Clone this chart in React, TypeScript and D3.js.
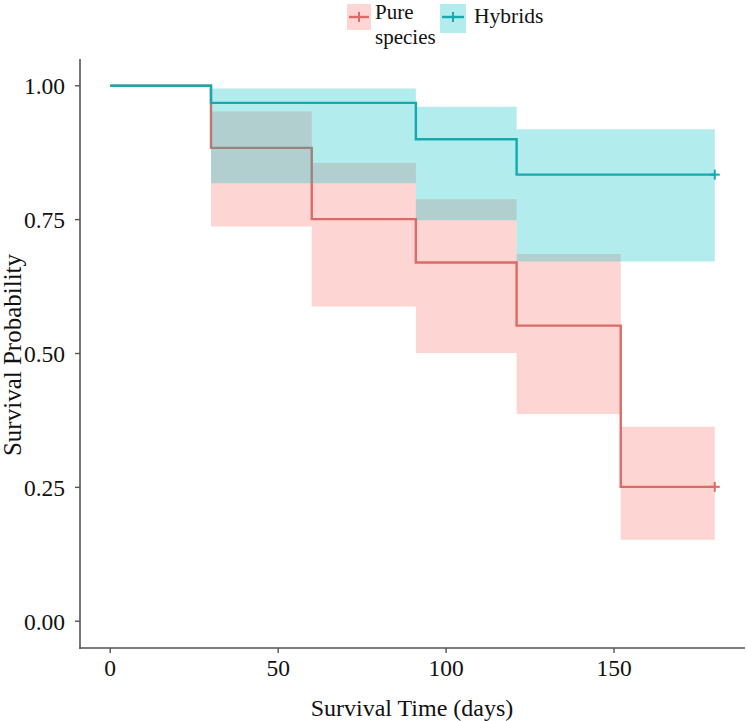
import React from "react";
import * as d3 from "d3";

// Kaplan-Meier step data (times where each step starts) and the end of follow-up
const endTime = 180;
const pureTimes = [0, 30, 60, 91, 121, 152];
const pureSurv = [1, 0.884, 0.751, 0.67, 0.552, 0.251];
const pureUpper = [1, 0.952, 0.856, 0.788, 0.686, 0.363];
const pureLower = [1, 0.737, 0.588, 0.501, 0.387, 0.152];

const hybTimes = [0, 30, 91, 121];
const hybSurv = [1, 0.968, 0.9, 0.834];
const hybUpper = [1, 0.995, 0.961, 0.919];
const hybLower = [1, 0.818, 0.749, 0.672];

const xTicks = [0, 50, 100, 150];
const yTicks = [0, 0.25, 0.5, 0.75, 1];
const legendLabels = ["Pure species", "Hybrids"];

const PURE = "#F8766D";
const HYB = "#00BFC4";
const PURE_LINE = "#dc6a66";
const HYB_LINE = "#14aab0";
const FONT = "'Liberation Serif', 'Times New Roman', serif";

type Pt = { t: number; s: number; lo: number; hi: number };

function toPts(times: number[], s: number[], lo: number[], hi: number[]): Pt[] {
  const pts = times.map((t, i) => ({ t, s: s[i], lo: lo[i], hi: hi[i] }));
  const last = pts[pts.length - 1];
  pts.push({ ...last, t: endTime });
  return pts;
}

export default function App() {
  const W = 747;
  const H = 721;
  const left = 80,
    right = 745,
    top = 59,
    bottom = 648;

  const x = d3.scaleLinear().domain([-9, 189]).range([left, right]);
  const y = d3.scaleLinear().domain([-0.05, 1.05]).range([bottom, top]);

  const pure = toPts(pureTimes, pureSurv, pureLower, pureUpper);
  const hyb = toPts(hybTimes, hybSurv, hybLower, hybUpper);

  const area = d3
    .area<Pt>()
    .x((d) => x(d.t))
    .y0((d) => y(d.lo))
    .y1((d) => y(d.hi))
    .curve(d3.curveStepAfter);
  const line = d3
    .line<Pt>()
    .x((d) => x(d.t))
    .y((d) => y(d.s))
    .curve(d3.curveStepAfter);

  const plus = (cx: number, cy: number, color: string, k: number) => (
    <g key={k} stroke={color} strokeWidth={2}>
      <line x1={cx - 5} x2={cx + 5} y1={cy} y2={cy} />
      <line x1={cx} x2={cx} y1={cy - 5} y2={cy + 5} />
    </g>
  );

  const pureEnd = pure[pure.length - 1];
  const hybEnd = hyb[hyb.length - 1];

  return (
    <svg width={W} height={H} style={{ display: "block", position: "absolute", left: 0, top: 0 }}>
      <rect width={W} height={H} fill="white" />
      {/* bands and curves */}
      <path d={area(pure) || ""} fill={PURE} fillOpacity={0.3} />
      <path d={line(pure) || ""} fill="none" stroke={PURE_LINE} strokeWidth={2.4} />
      {plus(x(pureEnd.t), y(pureEnd.s), PURE_LINE, 1)}
      <path d={area(hyb) || ""} fill={HYB} fillOpacity={0.3} />
      <path d={line(hyb) || ""} fill="none" stroke={HYB_LINE} strokeWidth={2.4} />
      {plus(x(hybEnd.t), y(hybEnd.s), HYB_LINE, 2)}

      {/* axes */}
      <line x1={left} x2={left} y1={top} y2={bottom + 1} stroke="#555" strokeWidth={1.6} />
      <line x1={left - 0.8} x2={right} y1={bottom} y2={bottom} stroke="#555" strokeWidth={1.6} />
      {yTicks.map((v) => (
        <g key={"y" + v}>
          <line x1={left - 5} x2={left} y1={y(v)} y2={y(v)} stroke="#555" strokeWidth={1.4} />
          <text
            x={left - 15}
            y={y(v)}
            dy="0.36em"
            textAnchor="end"
            fontFamily={FONT}
            fontSize={23.5}
            fill="#111"
          >
            {v.toFixed(2)}
          </text>
        </g>
      ))}
      {xTicks.map((v) => (
        <g key={"x" + v}>
          <line x1={x(v)} x2={x(v)} y1={bottom} y2={bottom + 5} stroke="#555" strokeWidth={1.4} />
          <text x={x(v)} y={676} textAnchor="middle" fontFamily={FONT} fontSize={23.5} fill="#111">
            {v}
          </text>
        </g>
      ))}
      <text x={412} y={716} textAnchor="middle" fontFamily={FONT} fontSize={24} fill="#111">
        Survival Time (days)
      </text>
      <text
        transform={`translate(21, 355) rotate(-90)`}
        textAnchor="middle"
        fontFamily={FONT}
        fontSize={25}
        fill="#111"
      >
        Survival Probability
      </text>

      {/* legend */}
      <g>
        <rect x={347} y={4} width={24} height={26} fill={PURE} fillOpacity={0.3} />
        <line x1={349} x2={369} y1={17} y2={17} stroke={PURE_LINE} strokeWidth={2.4} />
        {plus(359, 17, PURE_LINE, 3)}
        <text x={375} y={19} fontFamily={FONT} fontSize={21} fill="#111">
          {legendLabels[0].split(" ")[0]}
        </text>
        <text x={375} y={44} fontFamily={FONT} fontSize={21} fill="#111">
          {legendLabels[0].split(" ")[1]}
        </text>
        <rect x={440} y={4} width={26} height={29} fill={HYB} fillOpacity={0.3} />
        <line x1={442} x2={464} y1={17} y2={17} stroke={HYB_LINE} strokeWidth={2.4} />
        {plus(453, 17, HYB_LINE, 4)}
        <text x={474} y={23} fontFamily={FONT} fontSize={21.5} fill="#111">
          {legendLabels[1]}
        </text>
      </g>
    </svg>
  );
}
